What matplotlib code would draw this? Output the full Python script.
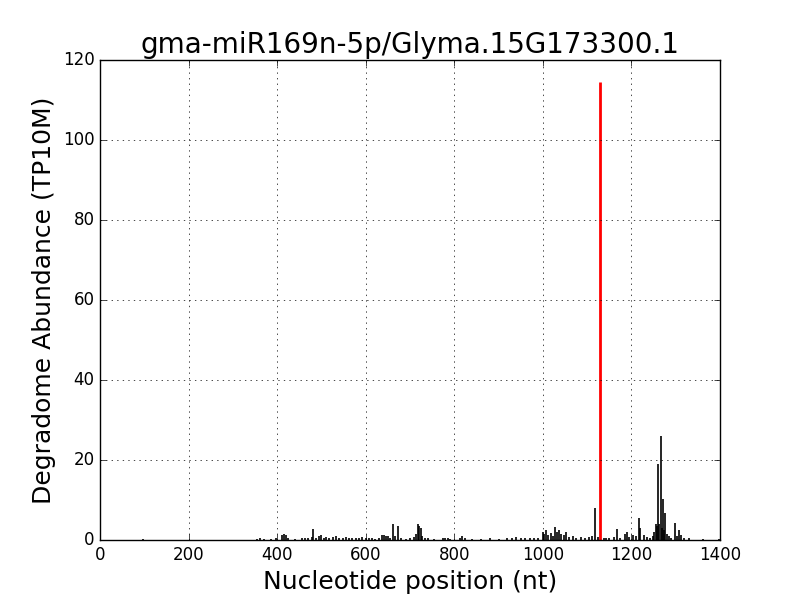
import matplotlib
matplotlib.use('Agg')
import matplotlib.pyplot as plt

plt.style.use('classic')

# -----------------------------------------------------------------------------
# données
# -----------------------------------------------------------------------------
titre = 'gma-miR169n-5p/Glyma.15G173300.1'

pos = [97, 355, 362, 370, 385, 398, 412, 415, 420, 425, 440, 455, 462, 470,
       478, 481, 488, 495, 500, 505, 510, 518, 525, 532, 540, 548, 555, 562,
       570, 578, 585, 592, 600, 608, 615, 622, 630, 637, 641, 645, 650, 655,
       662, 667, 673, 680, 690, 700, 710, 714, 717, 720, 724, 728, 733, 740,
       755, 775, 780, 785, 790, 812, 818, 825, 840, 860, 880, 900, 920, 930,
       940, 950, 960, 970, 980, 990, 1000, 1003, 1008, 1012, 1018, 1022, 1028,
       1033, 1037, 1042, 1048, 1053, 1060, 1068, 1075, 1085, 1095, 1105, 1112,
       1118, 1124, 1137, 1142, 1150, 1160, 1167, 1175, 1185, 1190, 1195, 1203,
       1210, 1217, 1220, 1228, 1235, 1242, 1248, 1252, 1255, 1258, 1260, 1263,
       1266, 1269, 1271, 1274, 1276, 1280, 1285, 1290, 1298, 1303, 1308, 1312,
       1318, 1330, 1362, 1398]

abondance = [0.3, 0.3, 0.4, 0.3, 0.3, 0.5, 1.2, 1.5, 1.3, 0.5, 0.3, 0.4, 0.6,
             0.5, 0.8, 2.7, 0.6, 1.0, 1.2, 0.5, 0.7, 0.4, 0.8, 1.0, 0.4, 0.5,
             0.8, 0.4, 0.5, 0.6, 0.4, 0.7, 0.5, 0.4, 0.6, 0.3, 0.5, 1.2, 1.2,
             1.0, 1.1, 0.6, 3.9, 1.0, 3.6, 0.5, 0.3, 0.4, 0.8, 1.5, 4.0, 3.5,
             3.0, 1.0, 0.5, 0.4, 0.3, 0.5, 0.4, 0.5, 0.3, 0.6, 1.0, 0.4, 0.3,
             0.3, 0.4, 0.3, 0.4, 0.5, 0.8, 0.4, 0.5, 0.6, 0.4, 0.5, 2.0, 1.5,
             2.5, 1.2, 1.8, 1.0, 3.2, 2.0, 2.6, 1.5, 1.2, 2.0, 0.8, 1.0, 0.6,
             0.8, 0.5, 0.7, 1.0, 8.0, 0.8, 0.6, 0.4, 0.5, 0.8, 2.8, 0.6, 1.5,
             2.0, 0.8, 1.2, 1.0, 5.5, 3.0, 1.2, 0.8, 0.6, 1.0, 2.0, 4.0, 3.5,
             19.0, 4.0, 26.0, 3.0, 10.2, 2.5, 6.7, 1.5, 1.0, 0.6, 4.2, 1.0,
             2.5, 1.2, 0.5, 0.4, 0.3, 0.3]

pos_cible = [1130]
abondance_cible = [114.5]

# -----------------------------------------------------------------------------
# figure
# -----------------------------------------------------------------------------
fig, ax = plt.subplots(figsize=(8, 6), dpi=100)

ax.vlines(pos, 0, abondance, colors='k', linewidth=1.2)
ax.vlines(pos_cible, 0, abondance_cible, colors='r', linewidth=2)

ax.set_xlim(0, 1400)
ax.set_ylim(0, 120)
ax.grid(True)
ax.set_title(titre, fontsize=20)
ax.set_xlabel('Nucleotide position (nt)', fontsize=18)
ax.set_ylabel('Degradome Abundance (TP10M)', fontsize=18)

fig.savefig('out.png', dpi=100)
